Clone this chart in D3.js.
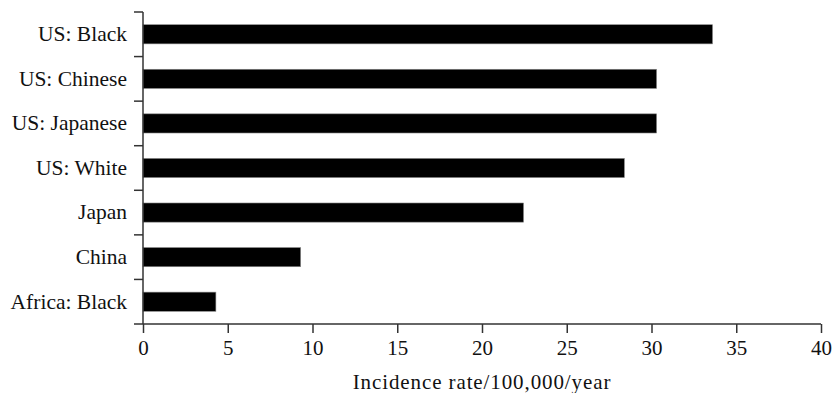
<!DOCTYPE html>
<html lang="en">

<head>
  <meta charset="utf-8">
  <title>Incidence rate bar chart</title>
  <script type="text/javascript" src="https://d3js.org/d3.v7.min.js"></script>
  <style type="text/css">
    body {
      margin: 0;
      background: #fff;
      overflow: hidden;
    }

    svg {
      display: block;
    }

    text {
      font-family: "Liberation Serif", "Times New Roman", serif;
      fill: #111;
    }
  </style>
</head>

<body>
  <div id="chart"></div>
  <script type="text/javascript">

    //Chart values
    const categories = ['US: Black', 'US: Chinese', 'US: Japanese', 'US: White', 'Japan', 'China', 'Africa: Black']
    const rates = [33.6, 30.3, 30.3, 28.4, 22.45, 9.3, 4.3]
    const xTicks = [0, 5, 10, 15, 20, 25, 30, 35, 40]
    const xTitle = 'Incidence rate/100,000/year'

    const width = 833
    const height = 393
    const margin = { top: 12, right: 12, bottom: 69, left: 143 }

    const svg = d3.select('#chart')
      .append('svg')
      .attr('width', width)
      .attr('height', height)

    const x = d3.scaleLinear()
      .domain([0, 40])
      .range([margin.left, width - margin.right])

    //padding outer is half the inner one so the bars sit in the middle of each slot
    const y = d3.scaleBand()
      .domain(categories)
      .range([margin.top, height - margin.bottom])
      .paddingInner(0.57)
      .paddingOuter(0.285)

    const axisColor = '#333'

    //Bars
    svg.selectAll('rect.bar')
      .data(categories)
      .enter()
      .append('rect')
      .attr('class', 'bar')
      .attr('x', x(0))
      .attr('y', d => y(d))
      .attr('width', (d, i) => x(rates[i]) - x(0))
      .attr('height', y.bandwidth())
      .attr('fill', '#000')
      .attr('stroke', '#888')
      .attr('stroke-width', 0.6)

    //X axis
    const xAxis = svg.append('g')
      .attr('transform', `translate(0,${height - margin.bottom})`)
      .call(d3.axisBottom(x).tickValues(xTicks).tickSize(9).tickSizeOuter(0).tickPadding(7))

    xAxis.select('.domain').remove()
    xAxis.selectAll('.tick line').attr('stroke', axisColor).attr('stroke-width', 1.5)
    xAxis.selectAll('.tick text')
      .style('font-size', '21px')
      .attr('fill', '#111')

    //the x axis line runs a little left of the y axis, like the other y ticks
    svg.append('line')
      .attr('x1', x(0) - 9)
      .attr('x2', x(40))
      .attr('y1', height - margin.bottom)
      .attr('y2', height - margin.bottom)
      .attr('stroke', axisColor)
      .attr('stroke-width', 1.5)

    //Y axis: labels from the band scale, ticks drawn at the slot edges
    const yAxis = svg.append('g')
      .attr('transform', `translate(${x(0)},0)`)
      .call(d3.axisLeft(y).tickSize(0).tickPadding(16))

    yAxis.select('.domain').remove()
    yAxis.selectAll('.tick text')
      .style('font-size', '21.5px')
      .attr('fill', '#111')

    const edgeOffset = y.step() * y.paddingInner() / 2
    svg.selectAll('line.ytick')
      .data(categories)
      .enter()
      .append('line')
      .attr('class', 'ytick')
      .attr('x1', x(0) - 9)
      .attr('x2', x(0))
      .attr('y1', d => y(d) - edgeOffset)
      .attr('y2', d => y(d) - edgeOffset)
      .attr('stroke', axisColor)
      .attr('stroke-width', 1.5)

    svg.append('line')
      .attr('x1', x(0))
      .attr('x2', x(0))
      .attr('y1', margin.top)
      .attr('y2', height - margin.bottom)
      .attr('stroke', axisColor)
      .attr('stroke-width', 1.5)

    //Axis title
    svg.append('text')
      .attr('x', (x(0) + x(40)) / 2)
      .attr('y', 389)
      .attr('text-anchor', 'middle')
      .style('font-size', '21px')
      .style('letter-spacing', '0.9px')
      .text(xTitle)

  </script>
</body>

</html>
